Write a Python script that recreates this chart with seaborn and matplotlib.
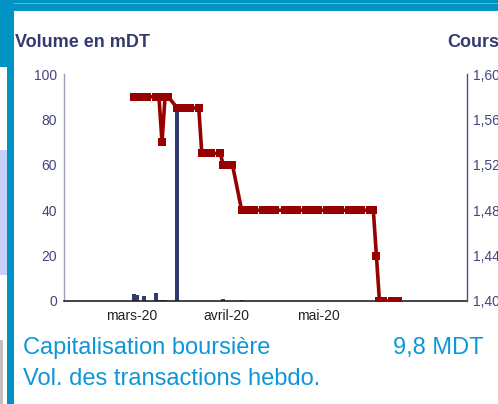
import pandas as pd
import matplotlib.pyplot as plt
from matplotlib.patches import Rectangle
from matplotlib.ticker import FuncFormatter
import seaborn as sns

# volumes (mDT)
vol_dates = ["2020-03-02", "2020-03-03", "2020-03-05", "2020-03-09", "2020-03-10",
             "2020-03-11", "2020-03-12", "2020-03-16", "2020-03-31", "2020-04-06"]
volumes = [3.0, 2.5, 2.4, 3.7, 0.3, 0.3, 0.3, 85.0, 1.0, 0.3]

# cours
cours_dates = [
    "2020-03-02", "2020-03-03", "2020-03-04", "2020-03-05", "2020-03-06",
    "2020-03-09", "2020-03-10", "2020-03-11", "2020-03-12", "2020-03-13",
    "2020-03-16", "2020-03-17", "2020-03-18", "2020-03-19", "2020-03-20",
    "2020-03-23", "2020-03-24", "2020-03-25", "2020-03-26", "2020-03-27",
    "2020-03-30", "2020-03-31", "2020-04-01", "2020-04-02", "2020-04-03",
    "2020-04-06", "2020-04-07", "2020-04-08", "2020-04-09", "2020-04-10",
    "2020-04-13", "2020-04-14", "2020-04-15", "2020-04-16", "2020-04-17",
    "2020-04-20", "2020-04-21", "2020-04-22", "2020-04-23", "2020-04-24",
    "2020-04-27", "2020-04-28", "2020-04-29", "2020-04-30", "2020-05-01",
    "2020-05-04", "2020-05-05", "2020-05-06", "2020-05-07", "2020-05-08",
    "2020-05-11", "2020-05-12", "2020-05-13", "2020-05-14", "2020-05-15",
    "2020-05-18", "2020-05-19", "2020-05-20", "2020-05-21", "2020-05-22",
    "2020-05-25", "2020-05-26", "2020-05-27",
]
cours = [
    1.58, 1.58, 1.58, 1.58, 1.58,
    1.58, 1.58, 1.54, 1.58, 1.58,
    1.57, 1.57, 1.57, 1.57, 1.57,
    1.57, 1.53, 1.53, 1.53, 1.53,
    1.53, 1.52, 1.52, 1.52, 1.52,
    1.48, 1.48, 1.48, 1.48, 1.48,
    1.48, 1.48, 1.48, 1.48, 1.48,
    1.48, 1.48, 1.48, 1.48, 1.48,
    1.48, 1.48, 1.48, 1.48, 1.48,
    1.48, 1.48, 1.48, 1.48, 1.48,
    1.48, 1.48, 1.48, 1.48, 1.48,
    1.48, 1.48, 1.44, 1.40, 1.40,
    1.40, 1.40, 1.40,
]

month_ticks = ["2020-03-01", "2020-04-01", "2020-05-01"]
month_labels = ["mars-20", "avril-20", "mai-20"]

W, H = 498, 404
NAVY = "#353a6e"
TICK = "#41467a"
RED = "#960000"
BLUE = "#0f96d6"

sns.set_theme(style="white")
plt.rcParams["font.family"] = ["Liberation Sans", "DejaVu Sans"]

fig = plt.figure(figsize=(W / 100, H / 100), dpi=100)


def rect(x0, y0, x1, y1, color):
    fig.add_artist(Rectangle((x0 / W, 1 - y1 / H), (x1 - x0) / W, (y1 - y0) / H,
                             transform=fig.transFigure, color=color, lw=0, zorder=0))


# page frame
rect(0, 0, W, 11, "#0093c4")
rect(0, 3, W, 4, "#4fb6dc")
rect(0, 0, 14, 67, "#0093c4")
rect(7, 67, 14, H, "#0093c4")
rect(0, 150, 7, 275, "#c5cff8")
rect(0, 340, 3, H, "#bfbfbf")

ax = fig.add_axes([64 / W, 1 - 301 / H, 403 / W, 227 / H])
ax.set_facecolor("none")

vol_df = pd.DataFrame({"date": pd.to_datetime(vol_dates), "volume": volumes})
cours_df = pd.DataFrame({"date": pd.to_datetime(cours_dates), "cours": cours})

ax.bar(vol_df["date"], vol_df["volume"], width=1.3, color="#333a72", lw=0)
ax.set_ylim(0, 100)
ax.set_yticks(range(0, 101, 20))

ax2 = ax.twinx()
sns.lineplot(data=cours_df, x="date", y="cours", ax=ax2, color=RED, lw=2.6,
             marker="s", markersize=5.5, markeredgewidth=0)
ax2.set_ylim(1.40, 1.60)
ax2.set_yticks([1.40, 1.44, 1.48, 1.52, 1.56, 1.60])
ax2.yaxis.set_major_formatter(FuncFormatter(lambda v, p: f"{v:.2f}".replace(".", ",")))

ax.set_xlim(pd.Timestamp("2020-02-08"), pd.Timestamp("2020-06-18 14:00"))
ax.set_xticks(pd.to_datetime(month_ticks))
ax.set_xticklabels(month_labels)

for a in (ax, ax2):
    a.set_xlabel("")
    a.set_ylabel("")
    a.spines["top"].set_visible(False)
    a.grid(False)

ax.spines["right"].set_visible(False)
ax.spines["left"].set_color("#9a9cc0")
ax.spines["left"].set_linewidth(1.0)
ax.spines["bottom"].set_color("#222222")
ax.spines["bottom"].set_linewidth(1.2)
ax2.spines["left"].set_visible(False)
ax2.spines["bottom"].set_visible(False)
ax2.spines["right"].set_color("#4a4f80")
ax2.spines["right"].set_linewidth(1.0)

ax.tick_params(axis="y", length=0, pad=5, labelsize=10, labelcolor=TICK)
ax.tick_params(axis="x", length=0, pad=6, labelsize=10, labelcolor="#222222")
ax2.tick_params(axis="y", length=0, pad=4.5, labelsize=10, labelcolor=TICK)

fig.text(15 / W, 1 - 47 / H, "Volume en mDT", fontsize=13, fontweight="bold",
         color=NAVY, va="baseline", ha="left")
fig.text(447 / W, 1 - 47 / H, "Cours", fontsize=13, fontweight="bold",
         color=NAVY, va="baseline", ha="left")

fig.text(23 / W, 1 - 354 / H, "Capitalisation boursière", fontsize=17,
         color=BLUE, va="baseline", ha="left")
fig.text(483 / W, 1 - 354 / H, "9,8 MDT", fontsize=17,
         color=BLUE, va="baseline", ha="right")
fig.text(23 / W, 1 - 385 / H, "Vol. des transactions hebdo.", fontsize=17,
         color=BLUE, va="baseline", ha="left")

fig.savefig("out.png", dpi=100)
